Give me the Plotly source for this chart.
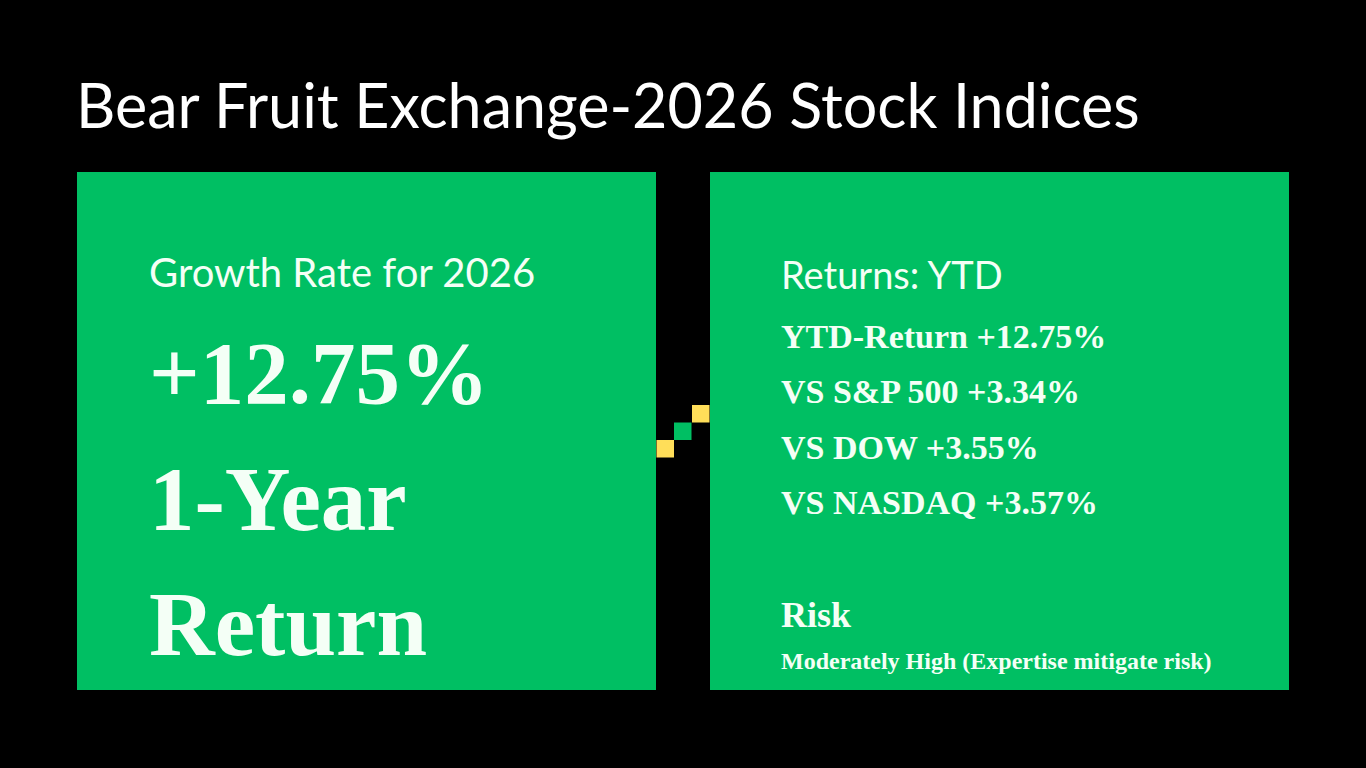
import plotly.graph_objects as go

# slide texts
title_text = "Bear Fruit Exchange-2026 Stock Indices"
growth_label = "Growth Rate for 2026"
growth_value = 12.75
return_words = ["1-Year", "Return"]

returns_label = "Returns: YTD"
index_names = ["YTD-Return", "VS S&P 500", "VS DOW", "VS NASDAQ"]
index_values = [12.75, 3.34, 3.55, 3.57]

risk_label = "Risk"
risk_note = "Moderately High (Expertise mitigate risk)"

W, H = 1366, 768
GREEN = "#00bf63"
YELLOW = "#ffde59"
INK = "#f4fff6"
SANS = "Lato, 'Open Sans', sans-serif"
SERIF = "'Liberation Serif', 'DejaVu Serif', serif"

fig = go.Figure()

# 两块绿色面板
for x0, x1 in [(77, 656), (710, 1289)]:
    fig.add_shape(type="rect", x0=x0, x1=x1, y0=172, y1=690,
                  fillcolor=GREEN, line_width=0, layer="below")

# 中间的像素连接块
for (x0, y0), col in zip([(692, 405), (674, 422.5), (656.5, 440)],
                         [YELLOW, GREEN, YELLOW]):
    fig.add_shape(type="rect", x0=x0, x1=x0 + 17.5, y0=y0, y1=y0 + 17.5,
                  fillcolor=col, line_width=0)


def label(x, y, text, size, family, color=INK, weight="normal"):
    fig.add_annotation(x=x, y=y, text=text, showarrow=False,
                       xanchor="left", yanchor="middle",
                       font={"size": size, "family": family,
                             "color": color, "weight": weight})


label(74, 104, title_text, 61, SANS, color="white")

# 左侧面板
label(147, 272, growth_label, 40, SANS)
label(147, 373, f"{growth_value:+.2f}%", 89, SERIF, weight="bold")
for i, word in enumerate(return_words):
    label(147, 499 + 125 * i, word, 91, SERIF, weight="bold")

# 右侧面板
label(779, 274, returns_label, 38, SANS)
for i, (name, val) in enumerate(zip(index_names, index_values)):
    label(779, 336 + 55.5 * i, f"{name} {val:+.2f}%", 34, SERIF, weight="bold")
label(779, 615, risk_label, 36, SERIF, weight="bold")
label(779, 661, risk_note, 24, SERIF, weight="bold")

fig.update_xaxes(range=[0, W], visible=False, fixedrange=True)
fig.update_yaxes(range=[H, 0], visible=False, fixedrange=True)
fig.update_layout(
    width=W, height=H,
    margin={"l": 0, "r": 0, "t": 0, "b": 0},
    paper_bgcolor="black", plot_bgcolor="black",
    showlegend=False,
)

fig.write_html(
    "out.html",
    config={"displayModeBar": False},
    post_script="document.body.style.margin='0';"
                "document.body.style.background='black';",
)
